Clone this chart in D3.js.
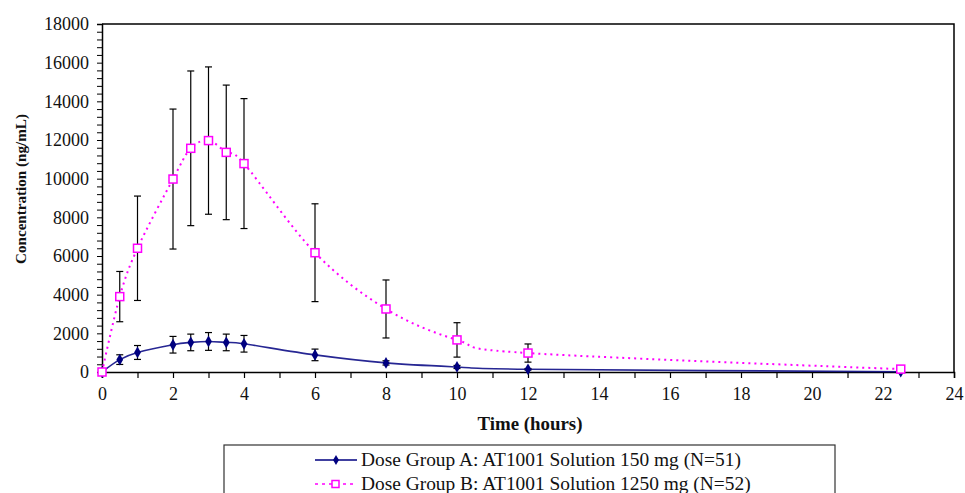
<!DOCTYPE html>
<html><head><meta charset="utf-8">
<script src="https://cdn.jsdelivr.net/npm/d3@7"></script>
<style>body{margin:0;background:#fff;} svg{display:block;}</style>
</head><body><svg id="c" width="965" height="493"></svg>
<script>
const times = [0, 0.5, 1, 2, 2.5, 3, 3.5, 4, 6, 8, 10, 12, 22.5];
const groupA = [0, 640, 1010, 1410, 1530, 1580, 1530, 1460, 885, 470, 260, 140, 15];
const groupA_sd = [0, 250, 360, 430, 430, 460, 430, 430, 300, 110, 80, 40, 0];
const groupB = [0, 3900, 6400, 9980, 11570, 11970, 11360, 10780, 6170, 3260, 1660, 980, 150];
const groupB_sd = [0, 1300, 2700, 3620, 4000, 3810, 3480, 3360, 2530, 1500, 890, 470, 0];
const xTicks = d3.range(0, 25, 2);
const yTicks = d3.range(0, 18001, 2000);
const legendLabels = ["Dose Group A: AT1001 Solution 150 mg (N=51)", "Dose Group B: AT1001 Solution 1250 mg (N=52)"];

const FONT = "'Liberation Serif', 'Times New Roman', Tinos, Times";
const svg = d3.select("#c");
const L = 102, R = 954, T = 24, B = 372;
const x = d3.scaleLinear().domain([0, 24]).range([L, R]);
const y = d3.scaleLinear().domain([0, 18000]).range([B, T]);

function fit(sel, w) {
  const n = sel.node();
  const fs = parseFloat(sel.style("font-size"));
  const len = n.getComputedTextLength();
  sel.style("font-size", (fs * w / len).toFixed(2) + "px");
}

// frame
svg.append("path").attr("d", `M${L},${T}H${R}V${B}`).attr("fill","none").attr("stroke","#000").attr("stroke-width",1.5);

// y axis
const ya = svg.append("g").attr("transform", `translate(${L},0)`)
  .call(d3.axisLeft(y).tickValues(d3.range(0, 18001, 400)).tickSize(5).tickFormat(d => yTicks.includes(d) ? d : ""));
ya.select(".domain").attr("stroke-width",1.5);
ya.selectAll(".tick line").attr("stroke-width",1);
ya.selectAll(".tick text").attr("x",-13).attr("fill","#111").style("font-family",FONT).style("font-size","18px");

// x axis
const xa = svg.append("g").attr("transform", `translate(0,${B})`)
  .call(d3.axisBottom(x).tickValues(d3.range(0, 25, 1)).tickSize(6).tickFormat(d => xTicks.includes(d) ? d : ""));
xa.select(".domain").attr("stroke-width",1.5);
xa.selectAll(".tick line").attr("stroke-width",1.2);
xa.selectAll(".tick text").attr("y",15).attr("fill","#111").style("font-family",FONT).style("font-size","18px");

// axis titles
const xt = svg.append("text").attr("x", 530).attr("y", 430).attr("text-anchor","middle")
  .style("font-family",FONT).style("font-size","18px").style("font-weight","bold").attr("fill","#111").text("Time (hours)");
fit(xt, 105);
const yt = svg.append("text").attr("transform","translate(26,189) rotate(-90)").attr("text-anchor","middle")
  .style("font-family",FONT).style("font-size","16px").style("font-weight","bold").attr("fill","#111").text("Concentration (ng/mL)");
fit(yt, 150);

const line = d3.line().x(d => x(d.t)).y(d => y(d.v)).curve(d3.curveCatmullRom.alpha(0));
const dataA = times.map((t,i) => ({t, v: groupA[i], sd: groupA_sd[i]}));
const dataB = times.map((t,i) => ({t, v: groupB[i], sd: groupB_sd[i]}));

// error bars
function errBars(data){
  const g = svg.append("g").attr("stroke","#000").attr("stroke-width",1.2);
  data.filter(d => d.sd > 0).forEach(d => {
    const cx = x(d.t), y1 = y(d.v + d.sd), y2 = y(Math.max(0, d.v - d.sd));
    g.append("line").attr("x1",cx).attr("x2",cx).attr("y1",y1).attr("y2",y2);
    g.append("line").attr("x1",cx-3.5).attr("x2",cx+3.5).attr("y1",y1).attr("y2",y1);
    g.append("line").attr("x1",cx-3.5).attr("x2",cx+3.5).attr("y1",y2).attr("y2",y2);
  });
}

// group A line
svg.append("path").datum(dataA).attr("d", line).attr("fill","none").attr("stroke","#000080").attr("stroke-width",1.6).attr("opacity",0.85);
errBars(dataA);
svg.append("g").selectAll("path").data(dataA).join("path")
  .attr("d", d3.symbol(d3.symbolDiamond, 40)).attr("transform", d => `translate(${x(d.t)},${y(d.v)})`).attr("fill","#000080");

// group B
svg.append("path").datum(dataB).attr("d", line).attr("fill","none").attr("stroke","#ff00ff").attr("stroke-width",2).attr("stroke-dasharray","2,4");
errBars(dataB);
svg.append("g").selectAll("rect").data(dataB).join("rect")
  .attr("x", d => x(d.t)-4).attr("y", d => y(d.v)-4).attr("width",8).attr("height",8)
  .attr("fill","#fff").attr("stroke","#ff00ff").attr("stroke-width",1.5);

// legend
svg.append("rect").attr("x",224).attr("y",445).attr("width",611).attr("height",60).attr("fill","#fff").attr("stroke","#333").attr("stroke-width",1.2);
const ly = [460, 484];
svg.append("line").attr("x1",315).attr("x2",357).attr("y1",ly[0]).attr("y2",ly[0]).attr("stroke","#000080").attr("stroke-width",1.5);
svg.append("path").attr("d", d3.symbol(d3.symbolDiamond, 30)).attr("transform",`translate(336,${ly[0]})`).attr("fill","#000080");
svg.append("line").attr("x1",315).attr("x2",357).attr("y1",ly[1]).attr("y2",ly[1]).attr("stroke","#ff00ff").attr("stroke-width",1.5).attr("stroke-dasharray","3,4");
svg.append("rect").attr("x",332).attr("y",ly[1]-3.5).attr("width",7).attr("height",7).attr("fill","#fff").attr("stroke","#ff00ff").attr("stroke-width",1.5);
const lt = legendLabels.map((s,i) => svg.append("text").attr("x",361).attr("y",ly[i]+6)
  .style("font-family",FONT).style("font-size","18px").attr("fill","#111").text(s));
fit(lt[0], 380);
lt[1].style("font-size", lt[0].style("font-size"));
</script></body></html>
